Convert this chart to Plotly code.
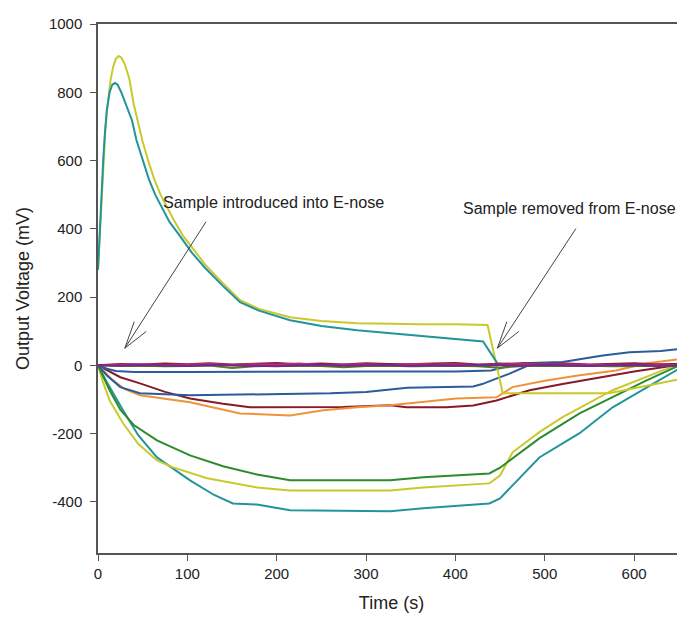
import plotly.graph_objects as go

# ---------------- data ----------------
# Large positive responders (peak then decay, drop at sample removal)
t_peak_yellow = [0, 2, 4, 6, 8, 10, 12, 14, 17, 20, 23, 26, 30, 35, 40, 45, 50, 56, 63, 70, 77, 85,
                 95, 105, 120, 140, 159, 180, 200, 215, 250, 290, 330, 360, 400, 436,
                 453, 500, 572, 610, 657]
v_peak_yellow = [279, 390, 500, 600, 680, 745, 795, 835, 875, 898, 906, 902, 882, 840, 765, 705, 655,
                 601, 545, 500, 464, 425, 380, 345, 295, 240, 191, 165, 150, 141, 130, 123, 122, 120,
                 120, 118, -82, -82, -82, -62, -38]

t_peak_teal = [0, 2, 4, 6, 8, 10, 13, 16, 19, 22, 26, 31, 38, 43, 50, 57, 64, 71, 80, 90, 105, 120,
               140, 159, 180, 215, 250, 290, 327, 380, 431, 447, 460, 500, 550, 600, 657]
v_peak_teal = [280, 400, 510, 610, 690, 750, 800, 822, 827, 822, 800, 765, 718, 660, 601, 545, 500,
               464, 420, 385, 330, 285, 232, 185, 160, 132, 115, 103, 94, 82, 70, 6, 2, 1, -1, 0, 1]

# Moderate negative responders
t_blue1 = [0, 10, 20, 40, 100, 200, 300, 400, 440, 460, 475, 520, 565, 595, 630, 657]
v_blue1 = [0, -10, -17, -20, -20, -18, -18, -18, -15, -2, 6, 10, 29, 38, 42, 50]

t_blue2 = [0, 10, 25, 47, 103, 200, 260, 300, 346, 420, 430, 445, 460, 480, 500, 560, 657]
v_blue2 = [0, -30, -64, -82, -88, -85, -82, -78, -66, -62, -55, -40, -25, -2, 0, 1, 0]

t_orange = [0, 15, 30, 47, 103, 130, 159, 215, 252, 290, 327, 401, 446, 464, 500, 539, 580, 614, 657]
v_orange = [0, -40, -70, -88, -108, -125, -141, -147, -132, -123, -117, -97, -94, -64, -45, -29, -15, 6, 20]

t_maroon = [0, 10, 25, 47, 75, 103, 140, 170, 260, 274, 327, 345, 390, 420, 446, 483, 520, 558, 600, 632, 657]
v_maroon = [0, -15, -35, -53, -78, -97, -113, -123, -123, -122, -117, -123, -123, -118, -103, -73, -55, -38, -18, -6, 5]

# Strong negative responders
t_green = [0, 5, 13, 25, 40, 66, 103, 140, 178, 215, 327, 364, 400, 438, 450, 461, 494, 539, 576, 614, 651, 657]
v_green = [0, -30, -73, -130, -175, -220, -264, -296, -320, -337, -337, -328, -322, -317, -300, -279, -214, -141, -94, -44, 0, 3]

t_yellow_low = [0, 5, 13, 28, 45, 66, 84, 122, 178, 215, 327, 364, 438, 450, 464, 494, 520, 576, 632, 657]
v_yellow_low = [0, -45, -103, -170, -230, -279, -299, -331, -358, -367, -367, -358, -346, -323, -255, -196, -152, -73, -15, 6]

t_teal_low = [0, 10, 28, 45, 66, 103, 130, 151, 178, 215, 327, 364, 438, 450, 494, 539, 576, 614, 640, 657]
v_teal_low = [0, -50, -132, -205, -270, -337, -380, -405, -408, -425, -428, -419, -405, -390, -270, -199, -123, -65, -25, 0]

# Non-responding sensors (flat near 0 mV)
t_flat = list(range(0, 651, 25)) + [657]
v_flat_maroon = [0, 4, 2, 5, 3, 6, 2, 4, 7, 3, 5, 2, 6, 4, 3, 5, 7, 2, 4, 6, 3, 5, 2, 4, 6, 3, 5, 4]
v_flat_olive = [0, -2, -1, -3, -2, -1, -8, -3, -1, -2, -2, -6, -2, -1, -3, -2, -1, -3, -7, -2, -1, -2, -1, -3, -2, -1, -2, -1]
v_flat_pink = [0, 2, 3, 1, 2, 4, 1, 3, 2, 5, 1, 2, 3, 1, 4, 2, 3, 1, 2, 4, 2, 3, 1, 2, 3, 2, 1, 2]
v_flat_purple = [0, -1, 1, 0, -2, 1, 0, -1, -3, 0, 1, -1, 0, 1, -2, 0, -1, 1, 0, -1, 1, 0, -2, 0, 1, -1, 0, 0]

x_ticks = [0, 100, 200, 300, 400, 500, 600]
y_ticks = [-400, -200, 0, 200, 400, 600, 800, 1000]
y_tick_labels = ["-400", "-200", "0", "200", "400", "600", "800", "1000"]

# ---------------- figure ----------------
YELLOW = "#c9c92e"
TEAL = "#22959b"
GREEN = "#2c8c2c"
BLUE = "#2a5c9c"
ORANGE = "#f0923a"
MAROON = "#861a26"

series = [
    (t_teal_low, v_teal_low, TEAL),
    (t_yellow_low, v_yellow_low, YELLOW),
    (t_green, v_green, GREEN),
    (t_maroon, v_maroon, MAROON),
    (t_orange, v_orange, ORANGE),
    (t_blue2, v_blue2, BLUE),
    (t_blue1, v_blue1, BLUE),
    (t_peak_yellow, v_peak_yellow, YELLOW),
    (t_peak_teal, v_peak_teal, TEAL),
    (t_flat, v_flat_olive, "#5a7a22"),
    (t_flat, v_flat_maroon, "#8a1a30"),
    (t_flat, v_flat_pink, "#c02a78"),
    (t_flat, v_flat_purple, "#6e2a8e"),
]

fig = go.Figure()
for t, v, c in series:
    fig.add_trace(go.Scatter(x=t, y=v, mode="lines",
                             line=dict(color=c, width=2), hoverinfo="skip",
                             showlegend=False))

FONT = "Liberation Sans, Arial, sans-serif"
ARROW = "#444444"

annotations = [
    dict(x=196, y=478, text="Sample introduced into E-nose", showarrow=False,
         font=dict(family=FONT, size=16.2, color="#222")),
    dict(x=528, y=460, text="Sample removed from E-nose", showarrow=False,
         font=dict(family=FONT, size=16, color="#222")),
]
# arrow shafts (from tail to tip, data coords)
for (tx, ty, hx, hy) in [(122, 425, 30, 50), (536, 405, 447, 50)]:
    annotations.append(dict(x=hx, y=hy, ax=tx, ay=ty, axref="x", ayref="y",
                            text="", showarrow=True, arrowhead=0,
                            arrowwidth=1, arrowcolor=ARROW))
    # open V-shaped head: two short strokes from the tip (pixel offsets)
    for (dx, dy) in [(10, -28), (23, -18)]:
        annotations.append(dict(x=hx, y=hy, ax=dx, ay=dy, text="",
                                showarrow=True, arrowhead=0,
                                arrowwidth=1, arrowcolor=ARROW))

# The page body adds an 8 px margin, so the figure is 8 px smaller and margins shifted.
fig.update_layout(
    width=677, height=615,
    margin=dict(l=90, r=0, t=16, b=70, autoexpand=False),
    paper_bgcolor="white", plot_bgcolor="white",
    font=dict(family=FONT, size=15, color="#222"),
    annotations=annotations,
    xaxis=dict(range=[0, 657], tickvals=x_ticks, ticks="outside", ticklen=6,
               tickcolor="#555", showline=True, linecolor="#555", linewidth=1.5,
               mirror=True, showgrid=False, zeroline=False, automargin=False,
               title=dict(text="Time (s)", font=dict(size=18), standoff=16),
               tickfont=dict(size=15)),
    yaxis=dict(range=[-550, 1000], tickvals=y_ticks, ticktext=y_tick_labels,
               ticks="outside", ticklen=6, ticklabelstandoff=5,
               tickcolor="#555", showline=True, linecolor="#555", linewidth=1.5,
               showgrid=False, zeroline=False, automargin=False,
               title=dict(text="Output Voltage (mV)", font=dict(size=18), standoff=15),
               tickfont=dict(size=15)),
)

fig.write_html("out.html")
